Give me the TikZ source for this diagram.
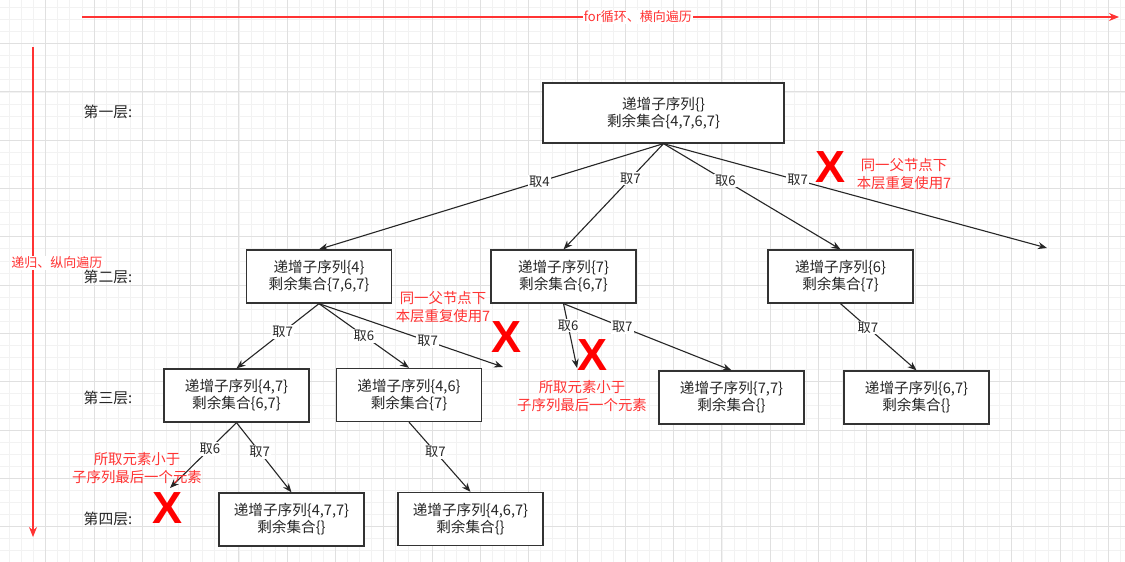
\documentclass[tikz,border=0pt]{standalone}
\usepackage{fontspec}
\setmainfont{Noto Sans CJK SC}
\newfontfamily\xfont{Liberation Sans}
\usepackage{tikz}
\usetikzlibrary{arrows.meta}
\definecolor{markred}{HTML}{FF0000}
\definecolor{notered}{HTML}{FF3333}

\tikzset{
  gridmin/.style={black!5,line width=0.8pt},
  gridmaj/.style={black!12,line width=1pt},
  box/.style={draw=black!80,line width=1.3pt,fill=white,minimum width=145pt,minimum height=53pt,
    inner sep=0pt,align=center,font=\fontsize{14.6}{17}\selectfont,text=black!85},
  lbl/.style={fill=white,inner sep=1pt,font=\fontsize{13.2}{15}\selectfont,text=black!85},
  link/.style={draw=black!85,line width=1.1pt,-{Stealth[length=9pt,width=7pt]}},
  redline/.style={draw=notered,line width=1.3pt,-{Stealth[length=10pt,width=8pt]}},
  note/.style={align=center,text=notered,font=\fontsize{14.4}{18}\selectfont},
  cross/.style={inner sep=0pt,text=markred,font=\xfont\bfseries\fontsize{45}{45}\selectfont},
  level/.style={text=black!85,font=\fontsize{14.8}{16}\selectfont}
}

\begin{document}
\begin{tikzpicture}[x=1pt,y=-1pt]
  \useasboundingbox (0,0) rectangle (1125,562);
  \fill[white] (0,0) rectangle (1125,562);
  % grid
  \begin{scope}
    \clip (0,0) rectangle (1125,562);
    \foreach \i in {0,...,94} \draw[gridmin] ({-2.6+12.075*\i},0) -- ({-2.6+12.075*\i},562);
    \foreach \j in {0,...,47} \draw[gridmin] (0,{-4.7+12.075*\j}) -- (1125,{-4.7+12.075*\j});
    \foreach \i in {0,...,23} \draw[gridmaj] ({-2.6+48.3*\i},0) -- ({-2.6+48.3*\i},562);
    \foreach \j in {0,...,12} \draw[gridmaj] (0,{-4.7+48.3*\j}) -- (1125,{-4.7+48.3*\j});
  \end{scope}

  % loops
  \coordinate (h0) at (82,17);
  \coordinate (h1) at (1119,17);
  \draw[redline] (h0) -- (h1) node[pos=0.536,fill=white,inner sep=1pt,text=notered,font=\fontsize{13}{15}\selectfont] (horiz) {for循环、横向遍历};
  \coordinate (v0) at (33,47);
  \coordinate (v1) at (33,537);
  \draw[redline] (v0) -- (v1);
  \node[fill=white,inner sep=1pt,text=notered,font=\fontsize{13}{15}\selectfont] (vert) at (57,263) {递归、纵向遍历};

  % levels
  \node[level] (lv1) at (108,112) {第一层:};
  \node[level] (lv2) at (108,277) {第二层:};
  \node[level] (lv3) at (108,398) {第三层:};
  \node[level] (lv4) at (108,519) {第四层:};

  % tree
  \node[box,minimum width=241pt,minimum height=60pt] (r) at (663.5,113) {递增子序列\{\}\\剩余集合\{4,7,6,7\}};
  \node[box] (a) at (319,276.5) {递增子序列\{4\}\\剩余集合\{7,6,7\}};
  \node[box] (b) at (563.5,276.5) {递增子序列\{7\}\\剩余集合\{6,7\}};
  \node[box] (c) at (840.5,276.5) {递增子序列\{6\}\\剩余集合\{7\}};
  \node[box] (aa) at (236.5,395.5) {递增子序列\{4,7\}\\剩余集合\{6,7\}};
  \node[box] (ab) at (409,395) {递增子序列\{4,6\}\\剩余集合\{7\}};
  \node[box] (ba) at (731.5,397.5) {递增子序列\{7,7\}\\剩余集合\{\}};
  \node[box] (ca) at (916.5,397.5) {递增子序列\{6,7\}\\剩余集合\{\}};
  \node[box] (aaa) at (291.5,519.5) {递增子序列\{4,7,7\}\\剩余集合\{\}};
  \node[box] (aba) at (470.5,519) {递增子序列\{4,6,7\}\\剩余集合\{\}};

  \coordinate (e1) at (1047,248);
  \coordinate (e2) at (503,367);
  \coordinate (e3) at (577,368);
  \coordinate (e4) at (170,488);

  \draw[link] (r.south) -- (a.north) node[lbl,pos=0.36] {取4};
  \draw[link] (r.south) -- (b.north) node[lbl,pos=0.33] {取7};
  \draw[link] (r.south) -- (c.north) node[lbl,pos=0.35] {取6};
  \draw[link] (r.south) -- (e1) node[lbl,pos=0.35] {取7};
  \draw[link] (a.south) -- (aa.north) node[lbl,pos=0.44] {取7};
  \draw[link] (a.south) -- (ab.north) node[lbl,pos=0.5] {取6};
  \draw[link] (a.south) -- (e2) node[lbl,pos=0.59] {取7};
  \draw[link] (b.south) -- (e3) node[lbl,pos=0.34] {取6};
  \draw[link] (b.south) -- (ba.north) node[lbl,pos=0.35] {取7};
  \draw[link] (c.south) -- (ca.north) node[lbl,pos=0.36] {取7};
  \draw[link] (aa.south) -- (e4) node[lbl,pos=0.4] {取6};
  \draw[link] (aa.south) -- (aaa.north) node[lbl,pos=0.42] {取7};
  \draw[link] (ab.south) -- (aba.north) node[lbl,pos=0.43] {取7};

  % pruned branches
  \node[cross] (x1) at (830,167) {X};
  \node[note] (n1) at (904,174) {同一父节点下\\本层重复使用7};
  \node[cross] (x2) at (507,337) {X};
  \node[note] (n2) at (443,307) {同一父节点下\\本层重复使用7};
  \node[cross] (x3) at (593,355) {X};
  \node[note] (n3) at (582,396) {所取元素小于\\子序列最后一个元素};
  \node[cross] (x4) at (168,508) {X};
  \node[note] (n4) at (137,468) {所取元素小于\\子序列最后一个元素};
\end{tikzpicture}
\end{document}
